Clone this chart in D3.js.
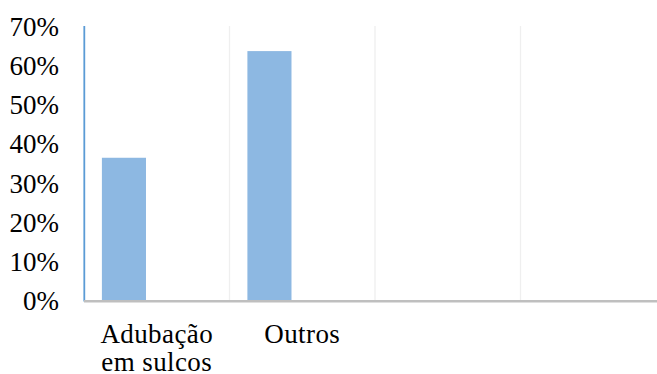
<!DOCTYPE html>
<html>
<head>
<meta charset="utf-8">
<script src="https://cdn.jsdelivr.net/npm/d3@7"></script>
</head>
<body style="margin:0;background:#fff">
<svg id="chart" width="657" height="374"></svg>
<script>
// Categories (the last two slots are empty) and their shares
const categories = ["Adubação\nem sulcos", "Outros", "", " "];
const values = [0.364, 0.636, null, null];
const yTicks = [0, 0.1, 0.2, 0.3, 0.4, 0.5, 0.6, 0.7];

const FONT = "Liberation Serif";
const svg = d3.select("#chart");
const plotLeft = 84, plotTop = 26, plotBottom = 300.5, plotRight = 666;

const x = d3.scaleBand().domain(categories).range([plotLeft, plotRight]).padding(0);
const y = d3.scaleLinear().domain([0, 0.7]).range([plotBottom, plotTop]);
const bw = x.bandwidth();

// vertical gridlines at category boundaries
svg.append("g").selectAll("line")
  .data(categories.slice(1))
  .join("line")
  .attr("x1", d => x(d)).attr("x2", d => x(d))
  .attr("y1", plotTop).attr("y2", plotBottom)
  .attr("stroke", "#efefef").attr("stroke-width", 1.3);

// bars
svg.append("g").selectAll("rect")
  .data(categories.map((c, i) => ({ c, v: values[i] })).filter(d => d.v != null))
  .join("rect")
  .attr("x", d => x(d.c) + bw * 0.123)
  .attr("width", bw * 0.303)
  .attr("y", d => y(d.v))
  .attr("height", d => y(0) - y(d.v))
  .attr("fill", "#8db8e2");

// y axis labels
const yAxis = d3.axisLeft(y).tickValues(yTicks).tickFormat(d3.format(".0%")).tickSize(0).tickPadding(0);
const gy = svg.append("g").attr("transform", "translate(59,0)").call(yAxis);
gy.attr("font-family", FONT).attr("font-size", 27);
gy.select(".domain").remove();
gy.selectAll("text").attr("font-family", FONT).attr("font-size", 27).attr("fill", "#000").attr("dy", "0.34em");

// left axis line
svg.append("line")
  .attr("x1", plotLeft + 0.3).attr("x2", plotLeft + 0.3)
  .attr("y1", plotTop).attr("y2", plotBottom + 1)
  .attr("stroke", "#5b9bd5").attr("stroke-width", 1.8);

// bottom axis line
svg.append("line")
  .attr("x1", plotLeft).attr("x2", 657)
  .attr("y1", y(0) + 0.8).attr("y2", y(0) + 0.8)
  .attr("stroke", "#bfbfbf").attr("stroke-width", 2.6);

// category labels
const labels = svg.append("g");
categories.forEach(c => {
  if (!c.trim()) return;
  const t = labels.append("text")
    .attr("x", x(c) + bw / 2)
    .attr("y", 343)
    .attr("text-anchor", "middle")
    .attr("font-family", FONT)
    .attr("font-size", 27)
    .attr("letter-spacing", 0.4);
  c.split("\n").forEach((line, i) => {
    t.append("tspan").attr("x", x(c) + bw / 2).attr("dy", i === 0 ? 0 : 28).text(line);
  });
});
</script>
</body>
</html>
